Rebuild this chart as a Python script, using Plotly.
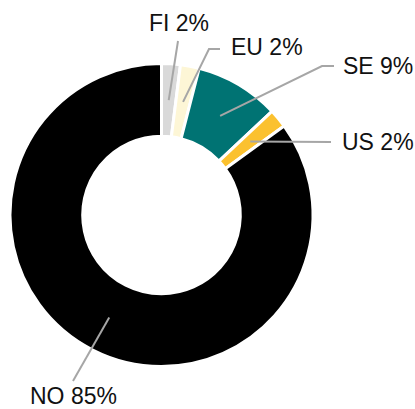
import math
import plotly.graph_objects as go

# Data
labels = ["FI", "EU", "SE", "US", "NO"]
values = [2, 2, 9, 2, 85]
colors = ["#d9d9d9", "#fdf6d6", "#007373", "#fbc12f", "#000000"]

W, H = 415, 409
# pie placement (pixels)
dom_x = (10, 313)
dom_y = (63, 367)
hole = 0.52

# label layout: (text left x, text centre y, leader path after the start point) in pixels
label_pos = {
    "FI": (147, 23, [(178, 41)]),
    "EU": (229, 47, [(209, 49), (220, 49)]),
    "SE": (341, 66, [(322, 66), (334, 66)]),
    "US": (340, 142, [(331, 142)]),
    "NO": (28, 396, [(73, 381)]),
}

fig = go.Figure(go.Pie(
    labels=labels, values=values, sort=False, direction="clockwise", rotation=0,
    hole=hole, textinfo="none", hoverinfo="label+percent",
    marker=dict(colors=colors, line=dict(color="white", width=3)),
    domain=dict(x=[dom_x[0] / W, dom_x[1] / W], y=[1 - dom_y[1] / H, 1 - dom_y[0] / H]),
    showlegend=False,
))

cx = (dom_x[0] + dom_x[1]) / 2
cy = (dom_y[0] + dom_y[1]) / 2
R = min(dom_x[1] - dom_x[0], dom_y[1] - dom_y[0]) / 2
rmid = R * (1 + hole) / 2
total = sum(values)

def px(x):
    return x / W

def py(y):
    return 1 - y / H

cum = 0
annotations = []
shapes = []
for lab, v in zip(labels, values):
    mid = (cum + v / 2) / total * 2 * math.pi
    cum += v
    sx = cx + rmid * math.sin(mid)
    sy = cy - rmid * math.cos(mid)
    tx, ty, path = label_pos[lab]
    pts = [(sx, sy)] + path
    d = "M " + " L ".join(f"{px(a):.5f},{py(b):.5f}" for a, b in pts)
    shapes.append(dict(type="path", path=d, xref="paper", yref="paper",
                       line=dict(color="#a6a6a6", width=2)))
    pct = round(v / total * 100)
    annotations.append(dict(x=px(tx), y=py(ty), xref="paper", yref="paper",
                            text=f"{lab} {pct}%", showarrow=False,
                            xanchor="left", yanchor="middle",
                            font=dict(family="Liberation Sans, Arial", size=23, color="#111111")))

fig.update_layout(
    width=W, height=H, margin=dict(l=0, r=0, t=0, b=0),
    paper_bgcolor="white", plot_bgcolor="white",
    shapes=shapes, annotations=annotations,
)
fig.write_html("out.html", config={"displayModeBar": False},
               post_script="document.body.style.margin='0';document.body.style.overflow='hidden';")
